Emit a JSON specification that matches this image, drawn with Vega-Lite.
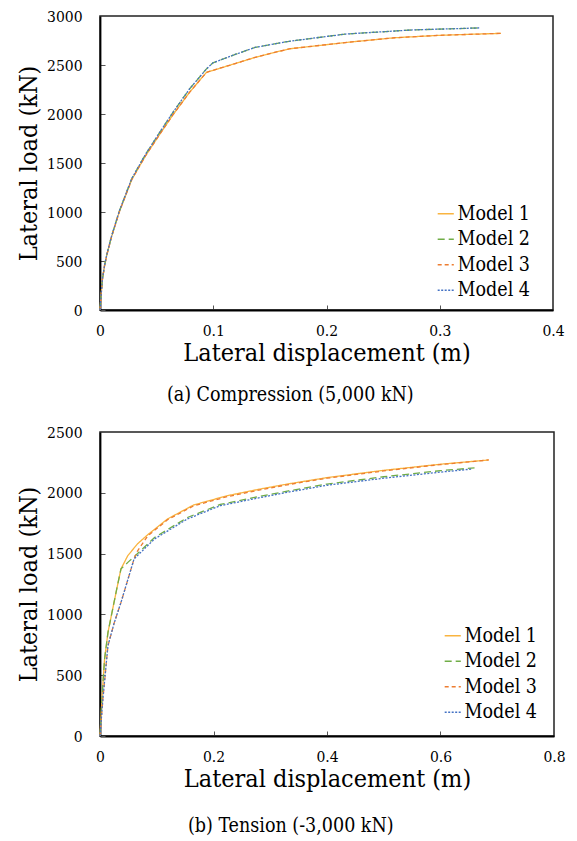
{
  "$schema": "https://vega.github.io/schema/vega-lite/v6.json",
  "padding": {"left": 15, "top": 8, "right": 5, "bottom": 5},
  "background": "#ffffff",
  "spacing": 19,
  "config": {
    "font": "DejaVu Serif Condensed",
    "view": {"stroke": "#222222", "strokeWidth": 1.5},
    "axis": {
      "grid": false,
      "domainColor": "#000000",
      "domainWidth": 1.8,
      "tickColor": "#555555",
      "tickSize": -5,
      "tickWidth": 1,
      "labelFont": "DejaVu Serif Condensed",
      "labelFontSize": 15.5,
      "labelColor": "#000000",
      "titleFont": "DejaVu Serif Condensed",
      "titleFontSize": 25,
      "titleFontWeight": "normal",
      "titleColor": "#000000"
    },
    "legend": {
      "title": null,
      "orient": "none",
      "symbolType": "stroke",
      "symbolSize": 260,
      "symbolStrokeWidth": 1.5,
      "labelFont": "DejaVu Serif Condensed",
      "labelFontSize": 19.5,
      "labelColor": "#000000",
      "labelOffset": 2,
      "rowPadding": 4.5,
      "padding": 0
    },
    "title": {"font": "DejaVu Serif Condensed", "fontSize": 19.5, "fontWeight": "normal", "color": "#000000"}
  },
  "datasets": {
    "curves": [
      {"panel": "a", "model": "Model 1", "x": 0, "y": 0},
      {"panel": "a", "model": "Model 1", "x": 0.001, "y": 150},
      {"panel": "a", "model": "Model 1", "x": 0.002, "y": 300},
      {"panel": "a", "model": "Model 1", "x": 0.004, "y": 450},
      {"panel": "a", "model": "Model 1", "x": 0.006, "y": 560},
      {"panel": "a", "model": "Model 1", "x": 0.01, "y": 740},
      {"panel": "a", "model": "Model 1", "x": 0.017, "y": 1000},
      {"panel": "a", "model": "Model 1", "x": 0.028, "y": 1330},
      {"panel": "a", "model": "Model 1", "x": 0.04, "y": 1570},
      {"panel": "a", "model": "Model 1", "x": 0.052, "y": 1780},
      {"panel": "a", "model": "Model 1", "x": 0.064, "y": 1985},
      {"panel": "a", "model": "Model 1", "x": 0.079, "y": 2220},
      {"panel": "a", "model": "Model 1", "x": 0.094, "y": 2425},
      {"panel": "a", "model": "Model 1", "x": 0.12, "y": 2517},
      {"panel": "a", "model": "Model 1", "x": 0.137, "y": 2578},
      {"panel": "a", "model": "Model 1", "x": 0.167, "y": 2665},
      {"panel": "a", "model": "Model 1", "x": 0.22, "y": 2733},
      {"panel": "a", "model": "Model 1", "x": 0.26, "y": 2778},
      {"panel": "a", "model": "Model 1", "x": 0.3, "y": 2803},
      {"panel": "a", "model": "Model 1", "x": 0.354, "y": 2823},
      {"panel": "a", "model": "Model 2", "x": 0, "y": 0},
      {"panel": "a", "model": "Model 2", "x": 0.001, "y": 150},
      {"panel": "a", "model": "Model 2", "x": 0.002, "y": 300},
      {"panel": "a", "model": "Model 2", "x": 0.004, "y": 455},
      {"panel": "a", "model": "Model 2", "x": 0.006, "y": 565},
      {"panel": "a", "model": "Model 2", "x": 0.01, "y": 745},
      {"panel": "a", "model": "Model 2", "x": 0.017, "y": 1008},
      {"panel": "a", "model": "Model 2", "x": 0.028, "y": 1340},
      {"panel": "a", "model": "Model 2", "x": 0.04, "y": 1585},
      {"panel": "a", "model": "Model 2", "x": 0.052, "y": 1800},
      {"panel": "a", "model": "Model 2", "x": 0.064, "y": 2010},
      {"panel": "a", "model": "Model 2", "x": 0.079, "y": 2255},
      {"panel": "a", "model": "Model 2", "x": 0.094, "y": 2460},
      {"panel": "a", "model": "Model 2", "x": 0.0997, "y": 2522},
      {"panel": "a", "model": "Model 2", "x": 0.12, "y": 2610},
      {"panel": "a", "model": "Model 2", "x": 0.137, "y": 2680},
      {"panel": "a", "model": "Model 2", "x": 0.167, "y": 2742},
      {"panel": "a", "model": "Model 2", "x": 0.217, "y": 2816},
      {"panel": "a", "model": "Model 2", "x": 0.276, "y": 2858},
      {"panel": "a", "model": "Model 2", "x": 0.335, "y": 2878},
      {"panel": "a", "model": "Model 3", "x": 0, "y": 0},
      {"panel": "a", "model": "Model 3", "x": 0.001, "y": 150},
      {"panel": "a", "model": "Model 3", "x": 0.002, "y": 300},
      {"panel": "a", "model": "Model 3", "x": 0.004, "y": 450},
      {"panel": "a", "model": "Model 3", "x": 0.006, "y": 560},
      {"panel": "a", "model": "Model 3", "x": 0.01, "y": 740},
      {"panel": "a", "model": "Model 3", "x": 0.017, "y": 1000},
      {"panel": "a", "model": "Model 3", "x": 0.028, "y": 1330},
      {"panel": "a", "model": "Model 3", "x": 0.04, "y": 1570},
      {"panel": "a", "model": "Model 3", "x": 0.052, "y": 1780},
      {"panel": "a", "model": "Model 3", "x": 0.064, "y": 1985},
      {"panel": "a", "model": "Model 3", "x": 0.079, "y": 2220},
      {"panel": "a", "model": "Model 3", "x": 0.094, "y": 2425},
      {"panel": "a", "model": "Model 3", "x": 0.12, "y": 2517},
      {"panel": "a", "model": "Model 3", "x": 0.137, "y": 2578},
      {"panel": "a", "model": "Model 3", "x": 0.167, "y": 2665},
      {"panel": "a", "model": "Model 3", "x": 0.22, "y": 2733},
      {"panel": "a", "model": "Model 3", "x": 0.26, "y": 2778},
      {"panel": "a", "model": "Model 3", "x": 0.3, "y": 2803},
      {"panel": "a", "model": "Model 3", "x": 0.354, "y": 2823},
      {"panel": "a", "model": "Model 4", "x": 0, "y": 0},
      {"panel": "a", "model": "Model 4", "x": 0.001, "y": 150},
      {"panel": "a", "model": "Model 4", "x": 0.002, "y": 300},
      {"panel": "a", "model": "Model 4", "x": 0.004, "y": 455},
      {"panel": "a", "model": "Model 4", "x": 0.006, "y": 565},
      {"panel": "a", "model": "Model 4", "x": 0.01, "y": 745},
      {"panel": "a", "model": "Model 4", "x": 0.017, "y": 1008},
      {"panel": "a", "model": "Model 4", "x": 0.028, "y": 1340},
      {"panel": "a", "model": "Model 4", "x": 0.04, "y": 1585},
      {"panel": "a", "model": "Model 4", "x": 0.052, "y": 1800},
      {"panel": "a", "model": "Model 4", "x": 0.064, "y": 2010},
      {"panel": "a", "model": "Model 4", "x": 0.079, "y": 2255},
      {"panel": "a", "model": "Model 4", "x": 0.094, "y": 2460},
      {"panel": "a", "model": "Model 4", "x": 0.0997, "y": 2522},
      {"panel": "a", "model": "Model 4", "x": 0.12, "y": 2610},
      {"panel": "a", "model": "Model 4", "x": 0.137, "y": 2680},
      {"panel": "a", "model": "Model 4", "x": 0.167, "y": 2742},
      {"panel": "a", "model": "Model 4", "x": 0.217, "y": 2816},
      {"panel": "a", "model": "Model 4", "x": 0.276, "y": 2858},
      {"panel": "a", "model": "Model 4", "x": 0.335, "y": 2878},
      {"panel": "b", "model": "Model 1", "x": 0, "y": 0},
      {"panel": "b", "model": "Model 1", "x": 0.004, "y": 350},
      {"panel": "b", "model": "Model 1", "x": 0.008, "y": 630},
      {"panel": "b", "model": "Model 1", "x": 0.014, "y": 850},
      {"panel": "b", "model": "Model 1", "x": 0.02, "y": 990},
      {"panel": "b", "model": "Model 1", "x": 0.03, "y": 1220},
      {"panel": "b", "model": "Model 1", "x": 0.037, "y": 1375},
      {"panel": "b", "model": "Model 1", "x": 0.049, "y": 1483},
      {"panel": "b", "model": "Model 1", "x": 0.066, "y": 1580},
      {"panel": "b", "model": "Model 1", "x": 0.084, "y": 1655},
      {"panel": "b", "model": "Model 1", "x": 0.119, "y": 1785},
      {"panel": "b", "model": "Model 1", "x": 0.165, "y": 1900},
      {"panel": "b", "model": "Model 1", "x": 0.224, "y": 1976},
      {"panel": "b", "model": "Model 1", "x": 0.282, "y": 2031},
      {"panel": "b", "model": "Model 1", "x": 0.33, "y": 2072},
      {"panel": "b", "model": "Model 1", "x": 0.4, "y": 2125},
      {"panel": "b", "model": "Model 1", "x": 0.5, "y": 2185},
      {"panel": "b", "model": "Model 1", "x": 0.6, "y": 2235},
      {"panel": "b", "model": "Model 1", "x": 0.685, "y": 2270},
      {"panel": "b", "model": "Model 2", "x": 0, "y": 0},
      {"panel": "b", "model": "Model 2", "x": 0.004, "y": 350},
      {"panel": "b", "model": "Model 2", "x": 0.008, "y": 630},
      {"panel": "b", "model": "Model 2", "x": 0.014, "y": 850},
      {"panel": "b", "model": "Model 2", "x": 0.02, "y": 990},
      {"panel": "b", "model": "Model 2", "x": 0.03, "y": 1220},
      {"panel": "b", "model": "Model 2", "x": 0.037, "y": 1375},
      {"panel": "b", "model": "Model 2", "x": 0.05, "y": 1432},
      {"panel": "b", "model": "Model 2", "x": 0.062, "y": 1482},
      {"panel": "b", "model": "Model 2", "x": 0.096, "y": 1632},
      {"panel": "b", "model": "Model 2", "x": 0.154, "y": 1797},
      {"panel": "b", "model": "Model 2", "x": 0.212, "y": 1904},
      {"panel": "b", "model": "Model 2", "x": 0.27, "y": 1960},
      {"panel": "b", "model": "Model 2", "x": 0.33, "y": 2014},
      {"panel": "b", "model": "Model 2", "x": 0.4, "y": 2072},
      {"panel": "b", "model": "Model 2", "x": 0.5, "y": 2132},
      {"panel": "b", "model": "Model 2", "x": 0.6, "y": 2182},
      {"panel": "b", "model": "Model 2", "x": 0.66, "y": 2205},
      {"panel": "b", "model": "Model 3", "x": 0, "y": 0},
      {"panel": "b", "model": "Model 3", "x": 0.005, "y": 300},
      {"panel": "b", "model": "Model 3", "x": 0.014, "y": 743},
      {"panel": "b", "model": "Model 3", "x": 0.025, "y": 930},
      {"panel": "b", "model": "Model 3", "x": 0.037, "y": 1099},
      {"panel": "b", "model": "Model 3", "x": 0.05, "y": 1300},
      {"panel": "b", "model": "Model 3", "x": 0.06, "y": 1456},
      {"panel": "b", "model": "Model 3", "x": 0.066, "y": 1520},
      {"panel": "b", "model": "Model 3", "x": 0.084, "y": 1645},
      {"panel": "b", "model": "Model 3", "x": 0.119, "y": 1778},
      {"panel": "b", "model": "Model 3", "x": 0.165, "y": 1893},
      {"panel": "b", "model": "Model 3", "x": 0.224, "y": 1968},
      {"panel": "b", "model": "Model 3", "x": 0.282, "y": 2024},
      {"panel": "b", "model": "Model 3", "x": 0.33, "y": 2066},
      {"panel": "b", "model": "Model 3", "x": 0.4, "y": 2120},
      {"panel": "b", "model": "Model 3", "x": 0.5, "y": 2180},
      {"panel": "b", "model": "Model 3", "x": 0.6, "y": 2232},
      {"panel": "b", "model": "Model 3", "x": 0.685, "y": 2270},
      {"panel": "b", "model": "Model 4", "x": 0, "y": 0},
      {"panel": "b", "model": "Model 4", "x": 0.005, "y": 300},
      {"panel": "b", "model": "Model 4", "x": 0.014, "y": 743},
      {"panel": "b", "model": "Model 4", "x": 0.025, "y": 930},
      {"panel": "b", "model": "Model 4", "x": 0.037, "y": 1099},
      {"panel": "b", "model": "Model 4", "x": 0.05, "y": 1300},
      {"panel": "b", "model": "Model 4", "x": 0.06, "y": 1456},
      {"panel": "b", "model": "Model 4", "x": 0.096, "y": 1620},
      {"panel": "b", "model": "Model 4", "x": 0.154, "y": 1785},
      {"panel": "b", "model": "Model 4", "x": 0.212, "y": 1894},
      {"panel": "b", "model": "Model 4", "x": 0.27, "y": 1949},
      {"panel": "b", "model": "Model 4", "x": 0.33, "y": 2004},
      {"panel": "b", "model": "Model 4", "x": 0.4, "y": 2062},
      {"panel": "b", "model": "Model 4", "x": 0.5, "y": 2120},
      {"panel": "b", "model": "Model 4", "x": 0.6, "y": 2170},
      {"panel": "b", "model": "Model 4", "x": 0.655, "y": 2195}
    ]
  },
  "resolve": {"legend": {"color": "independent", "strokeDash": "independent"}},
  "vconcat": [
    {
      "width": 453,
      "height": 294,
      "data": {"name": "curves"},
      "transform": [{"filter": "datum.panel === 'a'"}],
      "title": {"text": "(a) Compression (5,000 kN)", "orient": "bottom", "frame": "bounds", "anchor": "middle", "offset": 20},
      "mark": {"type": "line", "strokeWidth": 1.3},
      "encoding": {
        "x": {"field": "x", "type": "quantitative", "scale": {"domain": [0, 0.4]},
              "axis": {"title": "Lateral displacement (m)", "values": [0, 0.1, 0.2, 0.3, 0.4], "format": "~g", "labelPadding": 18, "titlePadding": 2, "labelFlush": false}},
        "y": {"field": "y", "type": "quantitative", "scale": {"domain": [0, 3000]},
              "axis": {"title": "Lateral load (kN)", "values": [0, 500, 1000, 1500, 2000, 2500, 3000], "format": "d", "labelPadding": 23, "titlePadding": 5}},
        "color": {"field": "model", "type": "nominal", "scale": {"domain": ["Model 1", "Model 2", "Model 3", "Model 4"], "range": ["#F9B440", "#70AD47", "#ED7D31", "#4472C4"]},
                  "legend": {"legendX": 336, "legendY": 188}},
        "strokeDash": {"field": "model", "type": "nominal", "scale": {"domain": ["Model 1", "Model 2", "Model 3", "Model 4"], "range": [[1, 0], [7, 4], [4, 3], [2, 1.5]]},
                       "legend": {"legendX": 336, "legendY": 188}}
      }
    },
    {
      "width": 454,
      "height": 304,
      "data": {"name": "curves"},
      "transform": [{"filter": "datum.panel === 'b'"}],
      "title": {"text": "(b) Tension (-3,000 kN)", "orient": "bottom", "frame": "bounds", "anchor": "middle", "offset": 25},
      "mark": {"type": "line", "strokeWidth": 1.3},
      "encoding": {
        "x": {"field": "x", "type": "quantitative", "scale": {"domain": [0, 0.8]},
              "axis": {"title": "Lateral displacement (m)", "values": [0, 0.2, 0.4, 0.6, 0.8], "format": "~g", "labelPadding": 18, "titlePadding": 2, "labelFlush": false}},
        "y": {"field": "y", "type": "quantitative", "scale": {"domain": [0, 2500]},
              "axis": {"title": "Lateral load (kN)", "values": [0, 500, 1000, 1500, 2000, 2500], "format": "d", "labelPadding": 23, "titlePadding": 5}},
        "color": {"field": "model", "type": "nominal", "scale": {"domain": ["Model 1", "Model 2", "Model 3", "Model 4"], "range": ["#F9B440", "#70AD47", "#ED7D31", "#4472C4"]},
                  "legend": {"legendX": 343, "legendY": 194}},
        "strokeDash": {"field": "model", "type": "nominal", "scale": {"domain": ["Model 1", "Model 2", "Model 3", "Model 4"], "range": [[1, 0], [7, 4], [4, 3], [2, 1.5]]},
                       "legend": {"legendX": 343, "legendY": 194}}
      }
    }
  ]
}
